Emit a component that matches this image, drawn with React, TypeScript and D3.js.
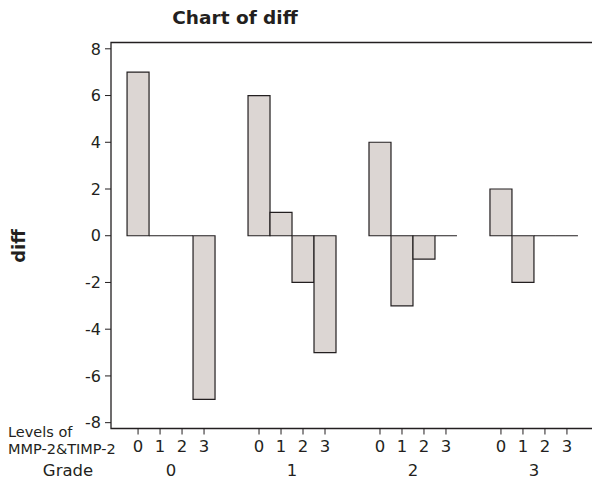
import React from 'react';
import * as d3 from 'd3';

const grades = ['0', '1', '2', '3'];
const levels = ['0', '1', '2', '3'];
// diff values, one array per grade, in level order 0..3
const grade0 = [7, 0, 0, -7];
const grade1 = [6, 1, -2, -5];
const grade2 = [4, -3, -1, 0];
const grade3 = [2, -2, 0, 0];
const diffByGrade = [grade0, grade1, grade2, grade3];
const yTicks = [-8, -6, -4, -2, 0, 2, 4, 6, 8];

const W = 592;
const H = 482;
const frame = { left: 111, top: 42.5, bottom: 428.5, right: 594 };
const GROUP_STEP = 5.5; // in bar slots
const font = '"DejaVu Sans", Verdana, sans-serif';
const ink = '#231f20';

export default function App() {
  const x = d3.scaleLinear().domain([-0.73, 21.23]).range([frame.left, frame.right]);
  const y = d3.scaleLinear().domain([-8.25, 8.27]).range([frame.bottom, frame.top]);

  const slot = (g: number, l: number) => g * GROUP_STEP + l;

  const bars = diffByGrade.flatMap((vals, g) =>
    vals.map((v, l) => ({ g, l, v, x0: x(slot(g, l)), x1: x(slot(g, l) + 1) }))
  );

  return (
    <svg width={W} height={H} style={{ position: 'absolute', left: 0, top: 0 }} fontFamily={font}>
      <rect width={W} height={H} fill="#fff" />
      <text x={235} y={24} textAnchor="middle" fontWeight="bold" fontSize={18.5} fill={ink}>
        Chart of diff
      </text>
      <text transform={`translate(25,246) rotate(-90)`} textAnchor="middle" fontWeight="bold" fontSize={18} fill={ink}>
        diff
      </text>

      {/* frame: left, top, bottom */}
      <path
        d={`M${frame.right},${frame.top}H${frame.left}V${frame.bottom}H${frame.right}`}
        fill="none"
        stroke={ink}
        strokeWidth={1.3}
      />

      {yTicks.map(t => (
        <g key={t}>
          <line x1={frame.left - 6} x2={frame.left} y1={y(t)} y2={y(t)} stroke={ink} />
          <text x={frame.left - 10} y={y(t)} dy="0.36em" textAnchor="end" fontSize={16} fill={ink}>
            {t}
          </text>
        </g>
      ))}

      {bars.map(b => {
        const y0 = y(0);
        const y1 = y(b.v);
        return (
          <path
            key={`${b.g}-${b.l}`}
            d={`M${b.x0},${y0}V${y1}H${b.x1}V${y0}Z`}
            fill="#dcd6d3"
            stroke={ink}
            strokeWidth={1.2}
          />
        );
      })}

      {grades.map((gl, g) => (
        <g key={gl}>
          {levels.map((ll, l) => {
            const cx = x(slot(g, l) + 0.5);
            return (
              <g key={ll}>
                <line x1={cx} x2={cx} y1={frame.bottom} y2={frame.bottom + 6} stroke={ink} />
                <text x={cx} y={452} textAnchor="middle" fontSize={16.5} fill={ink}>
                  {ll}
                </text>
              </g>
            );
          })}
          <text x={x(slot(g, 1.5) + 0.5)} y={476} textAnchor="middle" fontSize={16.5} fill={ink}>
            {gl}
          </text>
        </g>
      ))}

      <text x={8} y={437} fontSize={14.5} fill={ink}>Levels of</text>
      <text x={8} y={454} fontSize={14.5} fill={ink}>MMP-2&amp;TIMP-2</text>
      <text x={68} y={476} textAnchor="middle" fontSize={16.5} fill={ink}>Grade</text>
    </svg>
  );
}
